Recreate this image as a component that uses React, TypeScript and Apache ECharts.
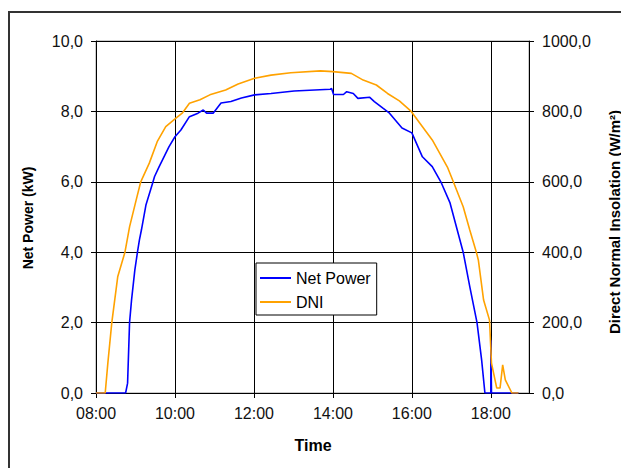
import React, { useEffect, useRef } from "react";
import * as echarts from "echarts";

// Net Power (kW), left axis
const netPowerTimes = [
  "08:00", "08:45", "08:48", "08:51", "08:54", "08:59", "09:03", "09:06", "09:09", "09:16",
  "09:26", "09:29", "09:36", "09:51", "10:00", "10:09", "10:22", "10:35", "10:43", "10:48",
  "10:58", "11:10", "11:25", "11:41", "12:01", "12:26", "13:01", "13:56", "13:58", "14:01",
  "14:16", "14:21", "14:31", "14:38", "14:56", "15:03", "15:16", "15:26", "15:45", "16:00",
  "16:16", "16:31", "16:44", "16:58", "17:18", "17:28", "17:39", "17:46", "17:51", "18:00",
  "18:00", "18:01", "18:42",
];
const netPowerValues = [
  0, 0, 0.28, 2.0, 2.64, 3.49, 4.0, 4.35, 4.63, 5.35,
  5.96, 6.15, 6.43, 7.0, 7.28, 7.47, 7.85, 7.95, 8.04, 7.95,
  7.95, 8.24, 8.28, 8.38, 8.47, 8.51, 8.58, 8.63, 8.65, 8.48,
  8.48, 8.56, 8.51, 8.37, 8.4, 8.28, 8.09, 7.95, 7.53, 7.39,
  6.71, 6.43, 6.0, 5.4, 4.0, 3.02, 2.0, 0.94, 0, 0,
  1.5, 0, 0,
];

// DNI (W/m²), right axis
const dniTimes = [
  "08:00", "08:14", "08:18", "08:24", "08:33", "08:44", "08:51", "09:01", "09:08", "09:21",
  "09:33", "09:46", "10:01", "10:11", "10:22", "10:30", "10:38", "10:53", "11:17", "11:36",
  "12:01", "12:26", "12:56", "13:41", "14:00", "14:28", "14:46", "15:06", "15:23", "15:41",
  "15:59", "16:31", "16:54", "17:03", "17:18", "17:28", "17:38", "17:41", "17:49", "17:58",
  "18:01", "18:09", "18:14", "18:18", "18:22", "18:32", "18:42",
];
const dniValues = [
  0, 0, 85, 200, 330, 400, 472, 548, 600, 653,
  714, 757, 780, 795, 823, 828, 833, 847, 861, 878,
  894, 903, 910, 915, 913, 908, 889, 875, 851, 830,
  800, 719, 642, 600, 529, 463, 400, 378, 264, 207,
  85, 14, 14, 80, 37, 0, 0,
];

const seriesNames = ["Net Power", "DNI"];
const leftAxisTitle = "Net Power (kW)";
const rightAxisTitle = "Direct Normal Insolation (W/m²)";
const xAxisTitle = "Time";

const toMin = (t: string) => {
  const [h, m] = t.split(":").map(Number);
  return h * 60 + m;
};
const fmtTime = (v: number) => {
  const h = Math.floor(v / 60);
  const m = Math.round(v % 60);
  return `${String(h).padStart(2, "0")}:${String(m).padStart(2, "0")}`;
};
const fmtNum = (v: number) => v.toFixed(1).replace(".", ",");

const FONT = "'Liberation Sans', Arial, sans-serif";

export default function App() {
  const ref = useRef<HTMLDivElement>(null);
  useEffect(() => {
    if (!ref.current) return;
    const chart = echarts.init(ref.current, null, { renderer: "svg" });
    const netData = netPowerTimes.map((t, i) => [toMin(t), netPowerValues[i]]);
    const dniData = dniTimes.map((t, i) => [toMin(t), dniValues[i]]);
    chart.setOption({
      animation: false,
      backgroundColor: "#fff",
      textStyle: { fontFamily: FONT },
      grid: {
        left: 96,
        right: 92,
        top: 41,
        bottom: 75,
        show: true,
        borderColor: "#999",
        borderWidth: 1,
        containLabel: false,
        outerBoundsMode: "none",
      },
      legend: {
        orient: "vertical",
        left: 256,
        top: 263,
        backgroundColor: "#fff",
        borderColor: "#000",
        borderWidth: 1,
        borderRadius: 0,
        padding: [7, 6, 5, 4],
        icon: "rect",
        itemWidth: 31,
        itemHeight: 2,
        itemGap: 8,
        textStyle: { fontSize: 16, fontFamily: FONT, color: "#000", lineHeight: 16 },
        data: seriesNames,
      },
      xAxis: {
        type: "value",
        min: 480,
        max: 1138,
        interval: 120,
        axisLine: { lineStyle: { color: "#000", width: 1 } },
        axisTick: { show: true, length: 5, lineStyle: { color: "#000" } },
        axisLabel: {
          formatter: fmtTime,
          fontSize: 16,
          color: "#111",
          margin: 12,
          showMaxLabel: false,
          fontFamily: FONT,
        },
        splitLine: { show: true, lineStyle: { color: "#000", width: 1 } },
      },
      yAxis: [
        {
          type: "value",
          min: 0,
          max: 10,
          interval: 2,
          axisLine: { show: true, lineStyle: { color: "#000", width: 1 } },
          axisTick: { show: true, length: 5, lineStyle: { color: "#000" } },
          axisLabel: { formatter: fmtNum, fontSize: 16, color: "#111", margin: 13, fontFamily: FONT },
          splitLine: { show: true, lineStyle: { color: "#000", width: 1 } },
        },
        {
          type: "value",
          min: 0,
          max: 1000,
          interval: 200,
          position: "right",
          axisLine: { show: true, lineStyle: { color: "#000", width: 1 } },
          axisTick: { show: true, length: 5, lineStyle: { color: "#000" } },
          axisLabel: { formatter: fmtNum, fontSize: 16, color: "#111", margin: 13, fontFamily: FONT },
          splitLine: { show: false },
        },
      ],
      series: [
        {
          name: seriesNames[0],
          type: "line",
          data: netData,
          yAxisIndex: 0,
          symbol: "none",
          z: 3,
          lineStyle: { color: "#0000ff", width: 1.6 },
          itemStyle: { color: "#0000ff" },
        },
        {
          name: seriesNames[1],
          type: "line",
          data: dniData,
          yAxisIndex: 1,
          symbol: "none",
          z: 4,
          lineStyle: { color: "#ffa200", width: 1.6 },
          itemStyle: { color: "#ffa200" },
        },
      ],
      graphic: [
        {
          type: "rect",
          shape: { x: 9, y: 12, width: 700, height: 600 },
          style: { fill: "none", stroke: "#333", lineWidth: 2 },
          silent: true,
        },
        {
          type: "text",
          x: 27.5,
          y: 218,
          rotation: Math.PI / 2,
          style: {
            text: leftAxisTitle,
            font: `bold 14px ${FONT}`,
            fill: "#000",
            align: "center",
            verticalAlign: "middle",
          },
        },
        {
          type: "text",
          x: 614,
          y: 222,
          rotation: Math.PI / 2,
          style: {
            text: rightAxisTitle,
            font: `bold 15px ${FONT}`,
            fill: "#000",
            align: "center",
            verticalAlign: "middle",
          },
        },
        {
          type: "text",
          x: 313,
          y: 445,
          style: {
            text: xAxisTitle,
            font: `bold 16px ${FONT}`,
            fill: "#000",
            align: "center",
            verticalAlign: "middle",
          },
        },
      ],
    });
    return () => chart.dispose();
  }, []);
  return (
    <div
      ref={ref}
      style={{ position: "fixed", left: 0, top: 0, width: 621, height: 468, background: "#fff" }}
    />
  );
}
